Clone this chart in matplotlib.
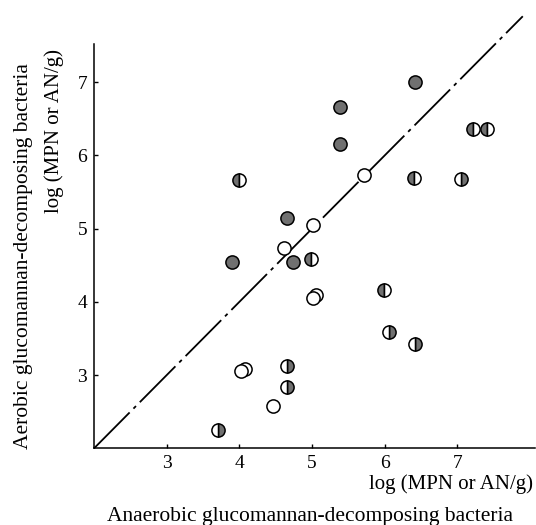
import matplotlib
matplotlib.use('Agg')
import matplotlib.pyplot as plt

plt.rcParams['font.family'] = ['Liberation Serif', 'DejaVu Serif']

# anaerobic (x) vs aerobic (y), log(MPN or AN/g), grouped by marker type
gray_x = [6.42, 5.39, 5.39, 4.66, 4.74, 3.90]
gray_y = [7.00, 6.66, 6.15, 5.15, 4.54, 4.54]

open_x = [5.72, 5.02, 4.62, 5.06, 5.01, 4.08, 4.02, 4.46]
open_y = [5.73, 5.05, 4.74, 4.09, 4.05, 3.08, 3.05, 2.58]

left_x = [3.99, 6.40, 7.21, 7.41, 4.98, 5.99]
left_y = [5.66, 5.69, 6.36, 6.36, 4.59, 4.16]

right_x = [7.05, 6.06, 6.41, 4.65, 4.66, 3.71]
right_y = [5.68, 3.59, 3.43, 3.12, 2.84, 2.25]

ticks = [3, 4, 5, 6, 7]

fig = plt.figure(figsize=(5.36, 5.25), dpi=100)
ax = fig.add_axes([0.1754, 0.146, 0.823, 0.770])
ax.set_xlim(2, 8.07)
ax.set_ylim(2, 7.52)

# 1:1 line
ax.plot([2, 7.9], [2, 7.9], color='black', lw=1.3, dashes=(28, 3, 2, 3),
        clip_on=False, zorder=1)

ms = 9.5
common = dict(linestyle='none', marker='o', markersize=ms, markeredgecolor='black',
              markeredgewidth=1.1, zorder=3)
ax.plot(gray_x, gray_y, markerfacecolor='#707070', **common)
ax.plot(open_x, open_y, markerfacecolor='white', **common)
ax.plot(left_x, left_y, fillstyle='left', markerfacecolor='#707070',
        markerfacecoloralt='white', **common)
ax.plot(right_x, right_y, fillstyle='right', markerfacecolor='#707070',
        markerfacecoloralt='white', **common)

for s in ['top', 'right']:
    ax.spines[s].set_visible(False)
for s in ['left', 'bottom']:
    ax.spines[s].set_linewidth(1.1)

ax.set_xticks(ticks)
ax.set_yticks(ticks)
ax.tick_params(direction='in', length=3, width=1, labelsize=14, pad=5)

fig.text(0.995, 1 - 484 / 525, 'log (MPN or AN/g)', ha='right', va='center', fontsize=15)
fig.text(310 / 536, 1 - 516 / 525, 'Anaerobic glucomannan-decomposing bacteria',
         ha='center', va='center', fontsize=15.5)
fig.text(54 / 536, 1 - 131 / 525, 'log (MPN or AN/g)', rotation=90,
         ha='center', va='center', fontsize=15)
fig.text(24 / 536, 1 - 256 / 525, 'Aerobic glucomannan-decomposing bacteria',
         rotation=90, ha='center', va='center', fontsize=15.5)

fig.savefig('out.png', dpi=100)
